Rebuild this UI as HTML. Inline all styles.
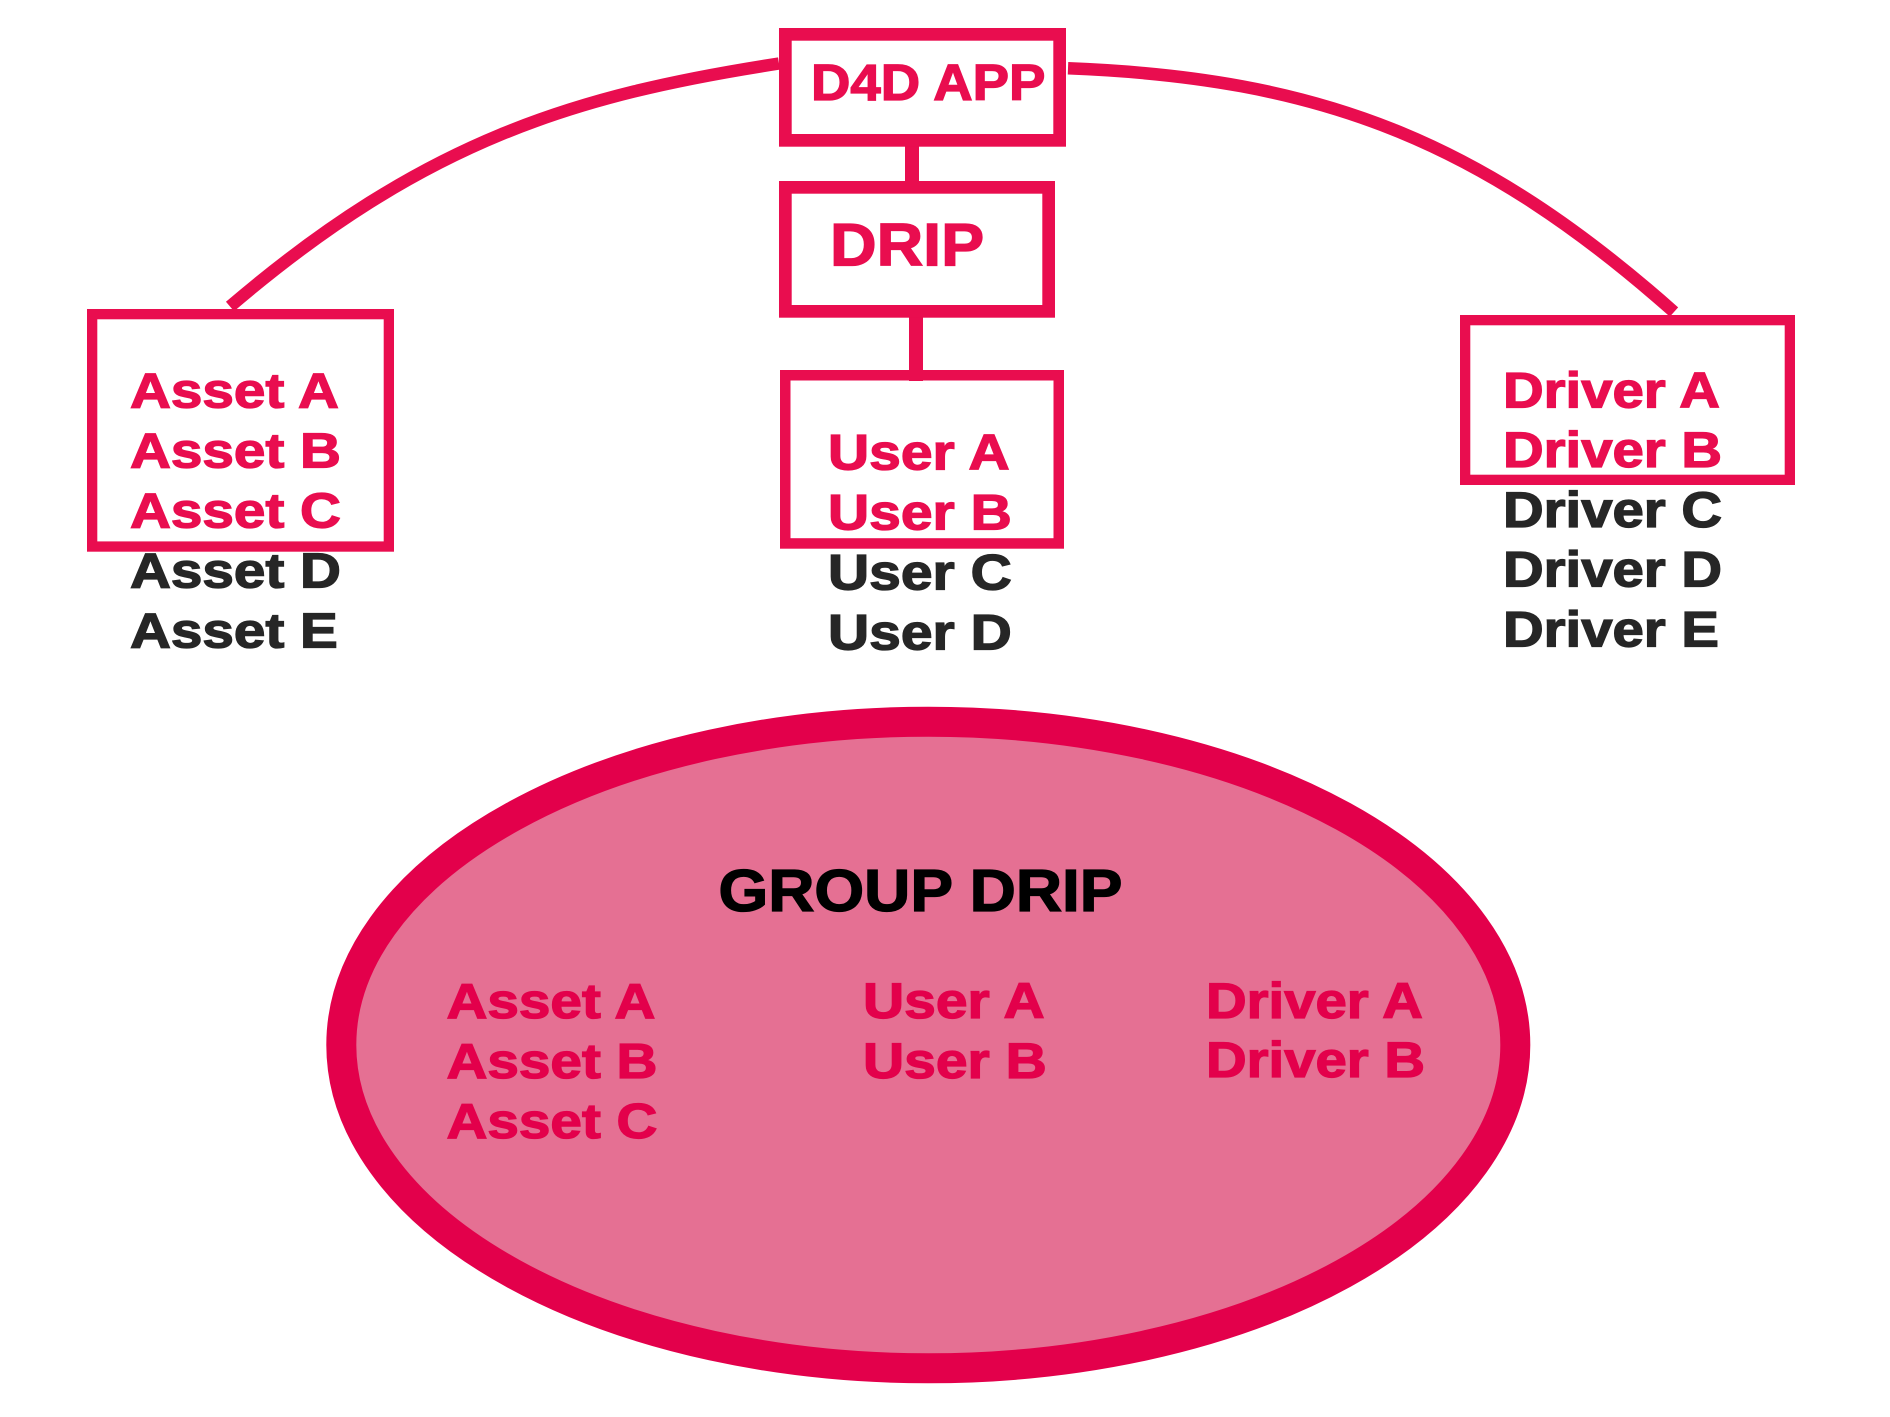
<!DOCTYPE html>
<html>
<head>
<meta charset="utf-8">
<style>
  html, body { margin: 0; padding: 0; background: #ffffff; }
  body { width: 1890px; height: 1417px; overflow: hidden; }
  svg { display: block; }
  text { font-family: "Liberation Sans", Arial, sans-serif; font-weight: bold; }
  .r { fill: #E90D4F; stroke: #E90D4F; stroke-width: 1.3; }
  .k { fill: #262626; stroke: #262626; stroke-width: 1.3; }
  .g { fill: #E3004B; stroke: #E3004B; stroke-width: 1.3; }
  .b { fill: #000000; stroke: #000000; stroke-width: 1.3; }
</style>
</head>
<body>
<svg width="1890" height="1417" viewBox="0 0 1890 1417" xmlns="http://www.w3.org/2000/svg">
  <rect x="0" y="0" width="1890" height="1417" fill="#ffffff"/>

  <!-- arcs -->
  <path d="M230,306.5 C425,140 575,95 779,63.5" fill="none" stroke="#E90D4F" stroke-width="12.5"/>
  <path d="M1068,68.3 C1320,78 1480,140 1674,312" fill="none" stroke="#E90D4F" stroke-width="12.5"/>

  <!-- connectors -->
  <rect x="905" y="146" width="14" height="36" fill="#E90D4F"/>
  <rect x="909" y="317" width="14" height="64" fill="#E90D4F"/>

  <!-- boxes -->
  <rect x="785.35" y="34.35" width="274.3" height="106" fill="none" stroke="#E90D4F" stroke-width="12.7"/>
  <rect x="785.35" y="187.35" width="263.3" height="124" fill="none" stroke="#E90D4F" stroke-width="12.7"/>
  <rect x="785.25" y="375.25" width="273.5" height="168.2" fill="none" stroke="#E90D4F" stroke-width="10.5"/>
  <rect x="92.15" y="314.15" width="296.7" height="232.4" fill="none" stroke="#E90D4F" stroke-width="10.3"/>
  <rect x="1465.15" y="320.15" width="324.7" height="159.7" fill="none" stroke="#E90D4F" stroke-width="10.3"/>

  <!-- box titles -->
  <text class="r" transform="translate(811,100) scale(1.07,1)" font-size="51">D4D APP</text>
  <text class="r" transform="translate(830,265.7) scale(1.075,1)" font-size="60">DRIP</text>

  <!-- Asset column -->
  <text class="r" transform="translate(130,407.7) scale(1.145,1)" font-size="49.5">Asset A</text>
  <text class="r" transform="translate(130,467.7) scale(1.145,1)" font-size="49.5">Asset B</text>
  <text class="r" transform="translate(130,527.7) scale(1.145,1)" font-size="49.5">Asset C</text>
  <text class="k" transform="translate(130,587.7) scale(1.145,1)" font-size="49.5">Asset D</text>
  <text class="k" transform="translate(130,647.7) scale(1.145,1)" font-size="49.5">Asset E</text>

  <!-- User column -->
  <text class="r" transform="translate(828,469.3) scale(1.14,1)" font-size="50">User A</text>
  <text class="r" transform="translate(828,529.3) scale(1.14,1)" font-size="50">User B</text>
  <text class="k" transform="translate(828,589.3) scale(1.14,1)" font-size="50">User C</text>
  <text class="k" transform="translate(828,649.3) scale(1.14,1)" font-size="50">User D</text>

  <!-- Driver column -->
  <text class="r" transform="translate(1503,407.3) scale(1.126,1)" font-size="50">Driver A</text>
  <text class="r" transform="translate(1503,466.9) scale(1.126,1)" font-size="50">Driver B</text>
  <text class="k" transform="translate(1503,527.1) scale(1.126,1)" font-size="50">Driver C</text>
  <text class="k" transform="translate(1503,586.7) scale(1.126,1)" font-size="50">Driver D</text>
  <text class="k" transform="translate(1503,646.7) scale(1.126,1)" font-size="50">Driver E</text>

  <!-- Group ellipse -->
  <ellipse cx="928.3" cy="1045" rx="587" ry="323.3" fill="#E57093" stroke="#E3004B" stroke-width="30"/>

  <text class="b" transform="translate(718.5,911) scale(1.075,1)" font-size="59.5">GROUP DRIP</text>

  <text class="g" transform="translate(446.5,1018) scale(1.145,1)" font-size="49.5">Asset A</text>
  <text class="g" transform="translate(446.5,1078) scale(1.145,1)" font-size="49.5">Asset B</text>
  <text class="g" transform="translate(446.5,1138) scale(1.145,1)" font-size="49.5">Asset C</text>

  <text class="g" transform="translate(863,1018) scale(1.14,1)" font-size="50">User A</text>
  <text class="g" transform="translate(863,1078) scale(1.14,1)" font-size="50">User B</text>

  <text class="g" transform="translate(1206,1018) scale(1.126,1)" font-size="50">Driver A</text>
  <text class="g" transform="translate(1206,1077) scale(1.126,1)" font-size="50">Driver B</text>
</svg>
</body>
</html>
